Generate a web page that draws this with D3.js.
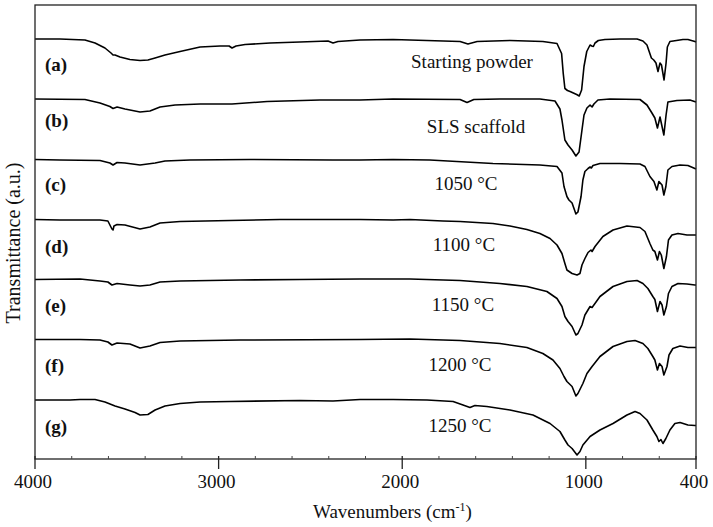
<!DOCTYPE html>
<html>
<head>
<meta charset="utf-8">
<script src="https://cdn.jsdelivr.net/npm/d3@7/dist/d3.min.js"></script>
<style>
  html, body { margin: 0; padding: 0; background: #fff; }
  svg { display: block; }
  text { font-family: "Liberation Serif", "Times New Roman", serif; fill: #111; }
</style>
</head>
<body>
<svg id="chart" width="713" height="527"></svg>
<script>
// ---------------- DATA ----------------
const majorTicks = [4000, 3000, 2000, 1000, 400];
const minorTicks = [3800, 3600, 3400, 3200, 2800, 2600, 2400, 2200, 1800, 1600, 1400, 1200, 800, 600];
const letterLabels = ["(a)", "(b)", "(c)", "(d)", "(e)", "(f)", "(g)"];
const sampleLabels = ["Starting powder", "SLS scaffold", "1050 °C", "1100 °C", "1150 °C", "1200 °C", "1250 °C"];
const offsets = [720, 600, 480, 360, 240, 120, 0]; // vertical stacking offset (a.u.)

// spectra: [wavenumber (cm-1), transmittance (a.u.)]
const specA = [[4000,120],[3864,120],[3728,118],[3673,112],[3619,102],[3586,92],[3575,88],[3564,88],[3537,84],[3483,79],[3428,77],[3385,78],[3346,82],[3292,88],[3210,95],[3101,104],[2992,106],[2943,106],[2927,102],[2905,106],[2856,109],[2720,112],[2557,114],[2404,116],[2377,112],[2350,115],[2230,118],[2050,119],[1867,117],[1685,115],[1642,110],[1592,115],[1413,117],[1234,115],[1157,111],[1132,91],[1123,51],[1114,21],[1100,17],[1086,15],[1050,9],[1036,6],[1023,18],[1010,65],[995,95],[977,108],[968,106],[959,105],[950,112],[932,117],[896,119],[814,120],[721,120],[689,116],[667,108],[656,96],[643,82],[630,78],[618,72],[607,55],[596,72],[588,68],[574,38],[563,72],[556,104],[542,115],[471,119],[444,119],[406,115],[400,114]];
const specB = [[4000,120],[3728,119],[3646,112],[3592,105],[3575,101],[3553,104],[3510,100],[3428,94],[3374,96],[3319,104],[3237,108],[3101,110],[2927,110],[2736,115],[2448,118],[2230,118],[2050,120],[1685,119],[1647,113],[1610,119],[1468,120],[1250,120],[1168,116],[1141,100],[1130,78],[1114,38],[1097,28],[1075,18],[1054,6],[1037,14],[1021,58],[1010,88],[994,102],[977,108],[966,104],[956,110],[934,118],[869,120],[705,119],[667,108],[640,92],[624,82],[610,62],[596,84],[575,48],[563,88],[553,114],[504,117],[433,118],[400,114]];
const specC = [[4000,119],[3864,118],[3646,117],[3592,112],[3575,108],[3553,113],[3510,112],[3428,108],[3346,112],[3292,116],[3156,118],[2829,119],[2377,118],[2230,118],[2050,119],[1850,118],[1506,111],[1250,108],[1157,105],[1130,92],[1119,65],[1103,45],[1092,38],[1075,32],[1054,10],[1043,14],[1026,45],[1016,78],[1005,95],[988,101],[977,104],[970,102],[961,107],[923,111],[814,111],[705,110],[678,105],[651,85],[629,75],[613,58],[602,75],[585,68],[575,48],[564,65],[553,98],[531,105],[487,108],[444,107],[406,101],[400,100]];
const specD = [[4000,119],[3864,118],[3646,118],[3603,116],[3581,100],[3575,98],[3570,106],[3553,109],[3510,108],[3428,100],[3374,104],[3319,112],[3210,115],[2938,117],[2666,119],[2230,119],[2050,118],[1958,119],[1778,116],[1685,115],[1506,111],[1413,106],[1321,99],[1250,91],[1195,81],[1157,68],[1130,51],[1114,31],[1103,18],[1075,11],[1048,8],[1032,11],[1021,28],[1005,41],[988,53],[972,58],[966,55],[950,65],[907,85],[852,98],[776,106],[705,103],[678,95],[651,71],[635,58],[624,55],[610,38],[599,55],[589,48],[575,21],[561,45],[550,78],[531,88],[498,91],[449,88],[406,88],[400,88]];
const specE = [[4000,119],[3755,120],[3646,116],[3603,114],[3581,108],[3553,111],[3483,108],[3428,106],[3374,108],[3319,114],[3210,116],[2883,118],[2557,119],[2230,120],[1958,120],[1685,117],[1468,111],[1321,105],[1212,95],[1157,81],[1130,65],[1114,45],[1097,35],[1075,25],[1054,8],[1043,11],[1021,28],[1005,48],[977,65],[966,63],[923,85],[852,105],[776,115],[721,117],[689,111],[662,101],[635,85],[624,79],[610,55],[596,75],[585,68],[575,48],[561,65],[550,91],[531,105],[498,111],[449,110],[406,108],[400,108]];
const specF = [[4000,119],[3755,119],[3646,118],[3603,114],[3581,108],[3553,112],[3483,110],[3428,102],[3374,106],[3319,113],[3210,116],[2883,118],[2230,119],[1958,120],[1685,117],[1468,111],[1321,103],[1234,91],[1179,78],[1141,61],[1119,45],[1103,35],[1075,25],[1054,6],[1043,11],[1016,31],[994,51],[966,65],[923,85],[852,105],[776,115],[732,117],[689,111],[662,101],[635,85],[624,78],[610,58],[599,71],[585,65],[575,48],[558,65],[547,88],[526,101],[487,106],[444,103],[406,103],[400,103]];
const specG = [[4000,118],[3809,118],[3755,119],[3673,119],[3619,114],[3564,106],[3510,100],[3455,93],[3428,88],[3385,89],[3346,98],[3292,106],[3210,111],[3101,114],[2938,115],[2557,117],[2377,116],[2230,119],[2050,119],[1865,118],[1723,115],[1669,108],[1631,103],[1604,107],[1539,105],[1413,98],[1288,88],[1195,71],[1141,55],[1114,38],[1097,28],[1075,21],[1048,8],[1032,15],[1016,28],[977,45],[923,58],[852,71],[776,88],[732,95],[705,91],[667,78],[635,58],[613,45],[602,35],[591,39],[580,31],[564,41],[542,58],[515,71],[487,73],[444,68],[406,67],[400,67]];

const spectra = [specA, specB, specC, specD, specE, specF, specG];

// ---------------- LAYOUT ----------------
const W = 713, H = 527;
const margin = { left: 35, right: 17, top: 5, bottom: 68 };
const plotW = W - margin.left - margin.right;   // 661
const plotH = H - margin.top - margin.bottom;   // 454

const svg = d3.select("#chart");
const g = svg.append("g").attr("transform", `translate(${margin.left},${margin.top})`);

const x = d3.scaleLinear().domain([4000, 400]).range([0, plotW]);
const y = d3.scaleLinear().domain([0, 908]).range([plotH, 0]);

// spectra
const line = d3.line()
  .x(d => x(d[0]))
  .y(d => y(d[1]));

spectra.forEach((s, i) => {
  g.append("path")
    .datum(s.map(p => [p[0], p[1] + offsets[i]]))
    .attr("fill", "none")
    .attr("stroke", "#000")
    .attr("stroke-width", 1.6)
    .attr("stroke-linejoin", "round")
    .attr("d", line);
});

// frame
g.append("rect")
  .attr("x", 0).attr("y", 0)
  .attr("width", plotW).attr("height", plotH)
  .attr("fill", "none")
  .attr("stroke", "#222")
  .attr("stroke-width", 1.3);

// bottom axis
const axisG = g.append("g").attr("transform", `translate(0,${plotH})`);
axisG.selectAll("line.major")
  .data(majorTicks).enter().append("line")
  .attr("class", "major")
  .attr("x1", d => x(d)).attr("x2", d => x(d))
  .attr("y1", -3).attr("y2", 10)
  .attr("stroke", "#222").attr("stroke-width", 1.3);
axisG.selectAll("line.minor")
  .data(minorTicks).enter().append("line")
  .attr("class", "minor")
  .attr("x1", d => x(d)).attr("x2", d => x(d))
  .attr("y1", -3).attr("y2", 0)
  .attr("stroke", "#444").attr("stroke-width", 1);
axisG.selectAll("text.tick")
  .data(majorTicks).enter().append("text")
  .attr("class", "tick")
  .attr("x", d => x(d) - 2)
  .attr("y", 29)
  .attr("text-anchor", "middle")
  .attr("font-size", 19)
  .text(d => d);

// axis titles
const xt = svg.append("text")
  .attr("x", 313).attr("y", 518)
  .attr("font-size", 19);
xt.append("tspan").text("Wavenumbers (cm");
xt.append("tspan").attr("font-size", 12).attr("dy", -7).text("-1");
xt.append("tspan").attr("dy", 7).text(")");

svg.append("text")
  .attr("transform", "translate(20,243) rotate(-90)")
  .attr("text-anchor", "middle")
  .attr("font-size", 20)
  .text("Transmittance (a.u.)");

// curve labels
const letterY = [71, 127, 191, 253, 312, 372, 433];
letterLabels.forEach((t, i) => {
  svg.append("text")
    .attr("x", 45).attr("y", letterY[i])
    .attr("font-size", 19)
    .attr("font-weight", "bold")
    .text(t);
});
const sampleX = [472, 476, 466, 464, 463, 460, 460];
const sampleY = [68, 133, 190, 251, 311, 371, 432];
sampleLabels.forEach((t, i) => {
  svg.append("text")
    .attr("x", sampleX[i]).attr("y", sampleY[i])
    .attr("text-anchor", "middle")
    .attr("font-size", 19)
    .text(t);
});
</script>
</body>
</html>
